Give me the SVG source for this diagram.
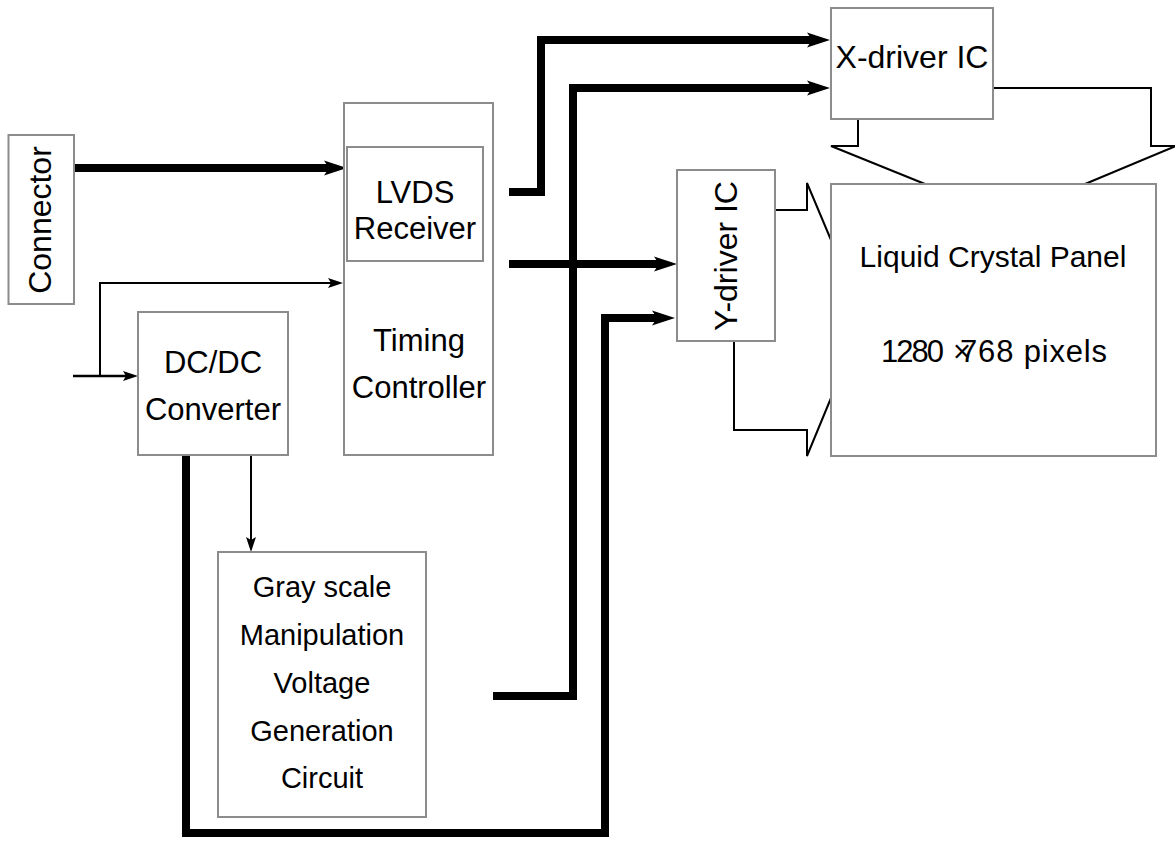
<svg xmlns="http://www.w3.org/2000/svg" width="1175" height="841" viewBox="0 0 1175 841">
<defs>
<style>
.box{fill:#fff;stroke:#8c8c8c;stroke-width:2}
.t{font-family:"Liberation Sans",Arial,sans-serif;fill:#000;text-anchor:middle}
.thick{fill:none;stroke:#000;stroke-width:8;stroke-linejoin:miter}
.thin{fill:none;stroke:#000;stroke-width:2;stroke-linejoin:miter}
</style>
<marker id="hb" viewBox="0 -8 24 16" refX="5" refY="0" markerWidth="24" markerHeight="16" markerUnits="userSpaceOnUse" orient="auto">
<path d="M0,-7.5 L23,0 L0,7.5 L5,0 Z" fill="#000"/>
</marker>
<marker id="hs" viewBox="0 -6 16 12" refX="3" refY="0" markerWidth="16" markerHeight="12" markerUnits="userSpaceOnUse" orient="auto">
<path d="M0,-5 L15,0 L0,5 L3,0 Z" fill="#000"/>
</marker>
</defs>
<rect width="1175" height="841" fill="#fff"/>

<g id="connectors">
<path class="thick" d="M74,168 H329" marker-end="url(#hb)"/>
<path class="thick" d="M509,192 H541 V40 H812" marker-end="url(#hb)"/>
<path class="thick" d="M493,696 H573 V88 H812" marker-end="url(#hb)"/>
<path class="thick" d="M509,264 H659" marker-end="url(#hb)"/>
<path class="thick" d="M186,455 V833 H605 V318 H657" marker-end="url(#hb)"/>
<path class="thin" d="M100,376 V283 H331" marker-end="url(#hs)"/>
<path class="thin" style="stroke-width:2.5" d="M73,376 H126" marker-end="url(#hs)"/>
<path class="thin" d="M251,455 V540" marker-end="url(#hs)"/>
<path class="thin" d="M858,119 V146 H831 L925,184"/>
<path class="thin" d="M993,88 H1151 V146 H1176 L1085,184"/>
<path class="thin" d="M775,210 H807 V183 L831,240"/>
<path class="thin" d="M734,341 V430 H807 V456 L831,398"/>
</g>

<g id="connector">
<rect class="box" x="8.5" y="135" width="65.5" height="169"/>
<text class="t" font-size="32" transform="translate(51,220) rotate(-90)">Connector</text>
</g>

<g id="timing-controller">
<rect class="box" x="344" y="103" width="149" height="352"/>
<text class="t" font-size="31" x="419" y="351">Timing</text>
<text class="t" font-size="31" x="419" y="398">Controller</text>
</g>

<g id="lvds-receiver">
<rect class="box" x="347" y="147" width="136" height="114"/>
<text class="t" font-size="31" x="415" y="203">LVDS</text>
<text class="t" font-size="31" x="415" y="239">Receiver</text>
</g>

<g id="dcdc-converter">
<rect class="box" x="138" y="312" width="150" height="143"/>
<text class="t" font-size="31" x="213" y="373">DC/DC</text>
<text class="t" font-size="31" x="213" y="420">Converter</text>
</g>

<g id="grayscale">
<rect class="box" x="218" y="552" width="208" height="265"/>
<text class="t" font-size="29" x="322" y="597">Gray scale</text>
<text class="t" font-size="29" x="322" y="645">Manipulation</text>
<text class="t" font-size="29" x="322" y="693">Voltage</text>
<text class="t" font-size="29" x="322" y="741">Generation</text>
<text class="t" font-size="29" x="322" y="788">Circuit</text>
</g>

<g id="x-driver">
<rect class="box" x="831" y="8" width="162" height="111"/>
<text class="t" font-size="32" x="912" y="68">X-driver IC</text>
</g>

<g id="y-driver">
<rect class="box" x="677" y="170" width="98" height="171"/>
<text class="t" font-size="32" transform="translate(737,256) rotate(-90)">Y-driver IC</text>
</g>

<g id="panel">
<rect class="box" x="831" y="184" width="325" height="272"/>
<text class="t" font-size="30" x="993" y="267">Liquid Crystal Panel</text>
<text font-family="Liberation Sans, Arial, sans-serif" font-size="31" y="362"><tspan x="881" textLength="63">1280</tspan><tspan x="953">×</tspan><tspan x="960" textLength="147">768 pixels</tspan></text>
</g>
</svg>
